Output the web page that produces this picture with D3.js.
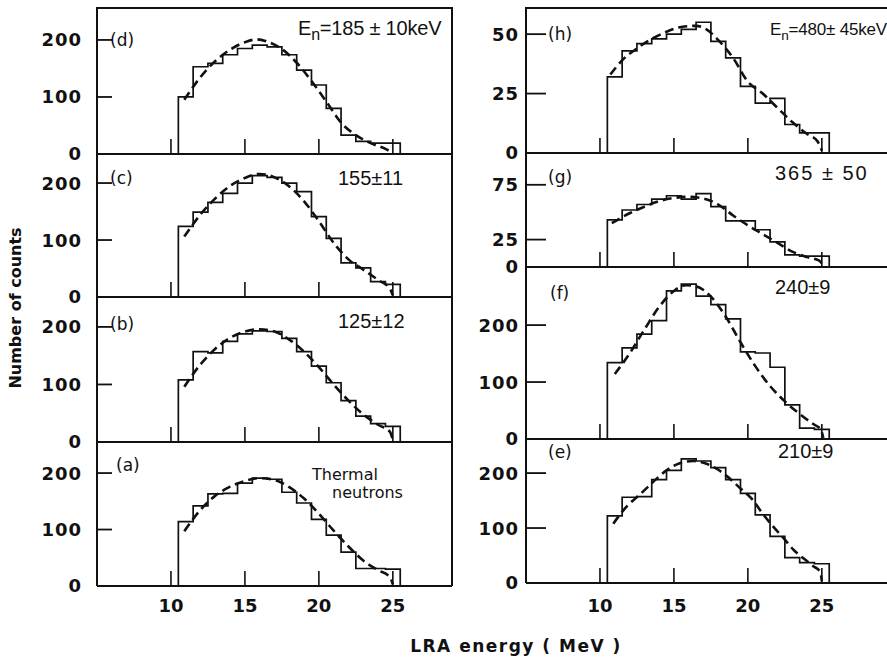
<!DOCTYPE html>
<html><head><meta charset="utf-8">
<script src="https://cdn.jsdelivr.net/npm/d3@7"></script>
<style>
body{margin:0;background:#fff;}
text{font-family:"DejaVu Sans",sans-serif;fill:#111;}
text.note{font-family:"Liberation Sans",Arial,sans-serif;}
</style></head>
<body><svg id="chart" width="887" height="658"></svg>
<script>
// ---------- data ----------
const binCenters = [11,12,13,14,15,16,17,18,19,20,21,22,23,24,25]; // MeV, 1 MeV bins
const binWidth = 1;
const xTickValues = [10,15,20,25];

const countsA = [114,142,163,164,182,191,189,166,147,118,90,60,31,31,30];
const countsB = [108,157,155,175,188,193,192,180,157,132,103,72,45,32,27];
const countsC = [124,149,166,182,200,213,210,200,185,141,103,60,51,27,22];
const countsD = [100,153,159,174,185,191,188,174,147,121,80,33,22,19,19];
const countsE = [122,156,157,188,205,226,222,210,188,163,124,85,46,37,35];
const countsF = [134,160,184,208,260,272,251,236,211,153,151,126,60,19,17];
const countsG = [43,52,57,62,65,62,67,55,42,42,34,23,11,10,10];
const countsH = [32,43,46,48,50,52,55,47,40,28,21,23,12,8.5,8.5];

const fitA = [[10.9,97],[12,135],[13,160],[14,176],[15,186],[16,191],[17,188],[18,175],[19,155],[20,128],[21,98],[22,70],[23,45],[24,28],[24.8,16],[25,3]];
const fitB = [[10.9,96],[12,135],[13,162],[14,181],[15,192],[16,196],[17,192],[18,178],[19,157],[20,130],[21,100],[22,72],[23,48],[24,30],[24.8,18],[25,3]];
const fitC = [[10.9,106],[12,145],[13,173],[14,195],[15,209],[16,216],[17,210],[18,194],[19,168],[20,133],[21,95],[22,66],[23,48],[24,30],[24.8,15],[25,3]];
const fitD = [[10.9,95],[12,135],[13,163],[14,183],[15,196],[15.8,201],[16.5,197],[17.5,184],[18.5,160],[19.5,128],[20.5,92],[21.5,55],[22.5,33],[23.5,19],[24.5,9],[25,2]];
const fitE = [[10.9,108],[11.8,139],[12.7,161],[13.6,184],[14.5,205],[15.4,218],[16.3,222],[17.2,217],[18,206],[18.6,194],[19.5,172],[20.3,152],[21,126],[21.7,103],[22.4,82],[23.1,60],[23.8,44],[24.4,31],[24.9,20],[25,3]];
const fitF = [[11,114],[12,150],[13,192],[14,232],[15,260],[15.8,270],[16.5,268],[17.5,250],[18.5,215],[19.5,170],[20.5,128],[21.5,93],[22.5,66],[23.5,44],[24.5,25],[24.9,18],[25.1,2]];
const fitG = [[10.8,40],[12,49],[13,55],[14,60],[15,63],[16,64],[17,62.5],[18,57],[19,47],[20,38],[21,30],[22,22],[23,14],[24,9],[24.8,6],[25.1,1]];
const fitH = [[10.7,33],[11.5,39],[12.5,44],[13.5,48],[14.5,51],[15.5,53],[16.5,53.5],[17.2,52],[18,47.5],[19,40],[20,30],[21,25],[22,19],[23,13],[24,8],[24.7,5],[25,1]];

const yTicksA = [0,100,200], yTicksB = [0,100,200], yTicksC = [0,100,200], yTicksD = [0,100,200];
const yTicksE = [0,100,200], yTicksF = [0,100,200], yTicksG = [0,25,75], yTicksH = [0,25,50];

const panelLetters = ["(a)","(b)","(c)","(d)","(e)","(f)","(g)","(h)"];
const energyNotes = ["", "125\u00b112", "155\u00b111", "185 \u00b1 10keV", "210\u00b19", "240\u00b19", "365 \u00b1 50", "480\u00b1 45keV"];
const thermalLines = ["Thermal", "neutrons"];

const yTitle = "Number of counts";
const xTitle = "LRA energy ( MeV )";

// ---------- layout ----------
const cols = {
  left:  {x0:97,  xr:[97,452],  frameRight:452, labX:82},
  right: {x0:526, xr:[526,881], frameRight:905, labX:519}
};
const panels = [
  {col:"left", top:8,   base:154, yMax:256, counts:countsD, fit:fitD, ticks:yTicksD, letter:panelLetters[3], lx:110, ly:40, note:energyNotes[3], nx:298, ny:35, fs:20, en:true},
  {col:"left", top:154, base:297, yMax:251, counts:countsC, fit:fitC, ticks:yTicksC, letter:panelLetters[2], lx:110, ly:178, note:energyNotes[2], nx:338, ny:185, fs:20},
  {col:"left", top:297, base:442, yMax:252, counts:countsB, fit:fitB, ticks:yTicksB, letter:panelLetters[1], lx:110, ly:324, note:energyNotes[1], nx:338, ny:328, fs:20},
  {col:"left", top:442, base:586, yMax:255, counts:countsA, fit:fitA, ticks:yTicksA, letter:panelLetters[0], lx:116, ly:465, note:"", thermal:true, bottom:true},
  {col:"right", top:8,   base:153, yMax:61,  counts:countsH, fit:fitH, ticks:yTicksH, letter:panelLetters[7], lx:548, ly:34, note:energyNotes[7], nx:770, ny:35, fs:17, en:true},
  {col:"right", top:153, base:267, yMax:104, counts:countsG, fit:fitG, ticks:yTicksG, letter:panelLetters[6], lx:548, ly:177, note:energyNotes[6], nx:775, ny:180, fs:20, ls:2},
  {col:"right", top:267, base:439, yMax:302, counts:countsF, fit:fitF, ticks:yTicksF, letter:panelLetters[5], lx:550, ly:293, note:energyNotes[5], nx:775, ny:294, fs:20},
  {col:"right", top:439, base:583, yMax:262, counts:countsE, fit:fitE, ticks:yTicksE, letter:panelLetters[4], lx:548, ly:452, note:energyNotes[4], nx:778, ny:458, fs:20, bottom:true}
];

const svg = d3.select("#chart");

// frames
Object.values(cols).forEach(c => {
  const ps = panels.filter(p => cols[p.col] === c);
  const top = d3.min(ps, p => p.top), bot = d3.max(ps, p => p.base);
  svg.append("path")
    .attr("d", `M${c.x0},${bot}V${top}H${c.frameRight}V${bot}`)
    .attr("fill","none").attr("stroke","#111").attr("stroke-width",2);
});

panels.forEach(p => {
  const c = cols[p.col];
  const x = d3.scaleLinear().domain([5,29]).range(c.xr);
  const y = d3.scaleLinear().domain([0,p.yMax]).range([p.base,p.top]);
  const g = svg.append("g");

  // baseline (zero line / separator)
  g.append("line").attr("x1",c.x0).attr("x2",c.frameRight).attr("y1",y(0)).attr("y2",y(0))
    .attr("stroke","#111").attr("stroke-width",2.2);

  // x ticks pointing up from baseline
  g.selectAll(".xt").data(xTickValues).enter().append("line")
    .attr("x1",d=>x(d)).attr("x2",d=>x(d)).attr("y1",y(0)).attr("y2",y(0)-15)
    .attr("stroke","#111").attr("stroke-width",1.6);

  // y ticks
  const tl = p.col==="left" ? 15 : 20;
  g.selectAll(".yt").data(p.ticks.filter(t=>t>0)).enter().append("line")
    .attr("x1",c.x0).attr("x2",c.x0+tl).attr("y1",d=>y(d)).attr("y2",d=>y(d))
    .attr("stroke","#111").attr("stroke-width",1.8);
  g.selectAll(".yl").data(p.ticks).enter().append("text")
    .attr("x",c.labX).attr("y",d=>y(d)).attr("dy","0.36em")
    .attr("text-anchor","end").attr("font-size",18).attr("font-weight","bold")
    .attr("letter-spacing",1).text(d=>d);

  // histogram
  const pts = [[binCenters[0]-binWidth/2,0]];
  binCenters.forEach((b,i)=>pts.push([b-binWidth/2,p.counts[i]]));
  pts.push([binCenters[binCenters.length-1]+binWidth/2,p.counts[p.counts.length-1]]);
  pts.push([binCenters[binCenters.length-1]+binWidth/2,0]);
  const step = d3.line().x(d=>x(d[0])).y(d=>y(d[1])).curve(d3.curveStepAfter);
  g.append("path").attr("d",step(pts)).attr("fill","none").attr("stroke","#111").attr("stroke-width",1.7);

  // fit curve
  const fl = d3.line().x(d=>x(d[0])).y(d=>y(d[1])).curve(d3.curveMonotoneX);
  g.append("path").attr("d",fl(p.fit)).attr("fill","none").attr("stroke","#111")
    .attr("stroke-width",2.6).attr("stroke-dasharray","9,5");

  // labels
  g.append("text").attr("x",p.lx).attr("y",p.ly).attr("dy","0.36em").attr("font-size",17)
    .text(p.letter);
  if (p.en) {
    const t = g.append("text").attr("class","note").attr("x",p.nx).attr("y",p.ny)
      .attr("font-size",p.fs).attr("letter-spacing",-0.2);
    t.append("tspan").text("E");
    t.append("tspan").attr("dy",5).attr("font-size",p.fs*0.8).text("n");
    t.append("tspan").attr("dy",-5).text("=" + p.note);
  } else if (p.note) {
    g.append("text").attr("class","note").attr("x",p.nx).attr("y",p.ny)
      .attr("font-size",p.fs).attr("letter-spacing",p.ls||0).text(p.note);
  }
  if (p.thermal) {
    g.append("text").attr("x",312).attr("y",480).attr("font-size",16).text(thermalLines[0]);
    g.append("text").attr("x",332).attr("y",498).attr("font-size",16).text(thermalLines[1]);
  }
  if (p.bottom) {
    g.selectAll(".xl").data(xTickValues).enter().append("text")
      .attr("x",d=>x(d)).attr("y",612).attr("text-anchor","middle")
      .attr("font-size",18).attr("font-weight","bold").text(d=>d);
  }
});

svg.append("text").attr("transform","translate(21,308) rotate(-90)")
  .attr("text-anchor","middle").attr("font-size",16).attr("font-weight","bold").text(yTitle);
svg.append("text").attr("x",516).attr("y",652).attr("text-anchor","middle")
  .attr("font-size",17).attr("font-weight","bold").attr("letter-spacing",1.5).text(xTitle);
</script></body></html>
